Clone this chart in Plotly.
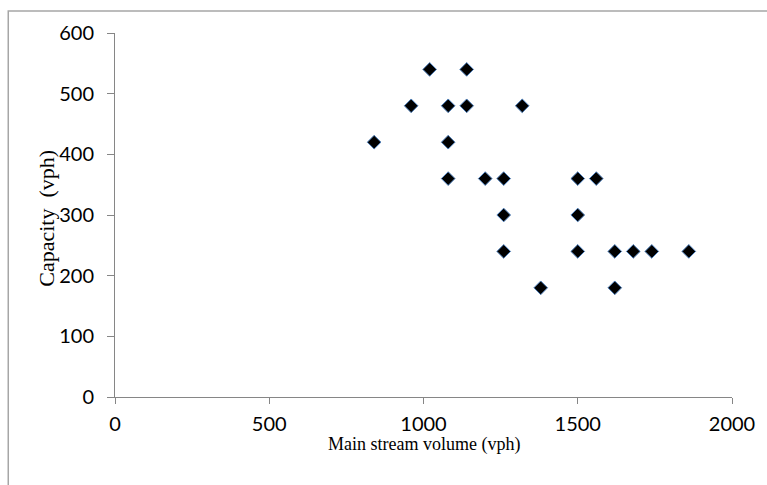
import plotly.graph_objects as go

# Data (main stream volume, capacity)
volume = [840, 960, 1020, 1080, 1080, 1080, 1140, 1140, 1200, 1260, 1260, 1260,
          1320, 1380, 1500, 1500, 1500, 1560, 1620, 1620, 1680, 1740, 1860]
capacity = [420, 480, 540, 480, 420, 360, 540, 480, 360, 360, 300, 240,
            480, 180, 360, 300, 240, 360, 240, 180, 240, 240, 240]

x_ticks = [0, 500, 1000, 1500, 2000]
y_ticks = [0, 100, 200, 300, 400, 500, 600]
x_title = "Main stream volume (vph)"
y_title = "Capacity  (vph)"

fig = go.Figure()
fig.add_trace(go.Scatter(
    x=volume, y=capacity, mode="markers",
    marker=dict(symbol="diamond", size=10.5, color="black",
                line=dict(color="#4f81bd", width=1)),
    showlegend=False, cliponaxis=False,
))

axis_color = "#868686"
tick_font = dict(family="Lato", size=20, color="black")

fig.update_layout(
    width=767, height=485,
    margin=dict(l=115, r=33, t=33, b=88),
    paper_bgcolor="white", plot_bgcolor="white",
    xaxis=dict(range=[0, 2000], tickvals=x_ticks, showgrid=False, zeroline=False,
               showline=True, linecolor=axis_color, linewidth=1,
               ticks="outside", ticklen=6, tickcolor=axis_color,
               tickfont=tick_font, ticklabelstandoff=3),
    yaxis=dict(range=[0, 600], tickvals=y_ticks, showgrid=False, zeroline=False,
               showline=True, linecolor=axis_color, linewidth=1,
               ticks="outside", ticklen=7, tickcolor=axis_color,
               tickfont=tick_font, ticklabelstandoff=9),
    annotations=[
        dict(text=x_title, xref="paper", yref="paper", x=0.5, y=-0.13,
             xanchor="center", yanchor="middle", showarrow=False,
             font=dict(family="Liberation Serif", size=18, color="black")),
        dict(text=y_title, xref="paper", yref="paper", x=-0.11, y=0.49,
             xanchor="center", yanchor="middle", showarrow=False, textangle=-90,
             font=dict(family="Liberation Serif", size=22, color="black")),
    ],
    shapes=[dict(type="rect", xref="paper", yref="paper",
                 x0=-0.173, x1=1.1, y0=-0.4, y1=1.0604,
                 line=dict(color="#a6a6a6", width=1.5), fillcolor="rgba(0,0,0,0)",
                 layer="below")],
)

fig.write_html("out.html")
